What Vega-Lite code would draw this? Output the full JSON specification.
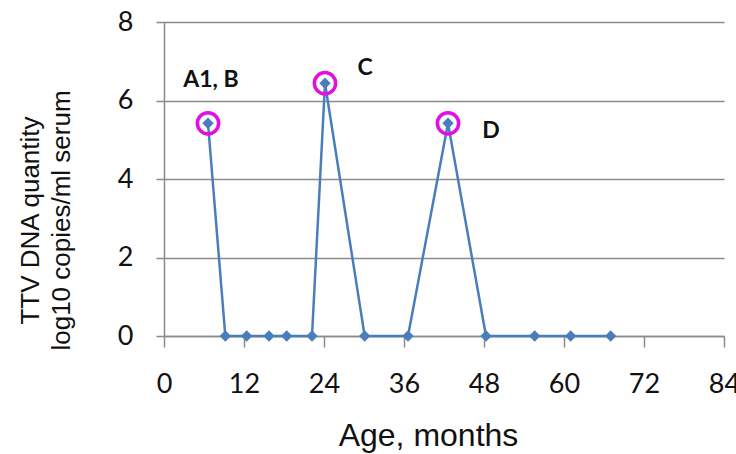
{
  "$schema": "https://vega.github.io/schema/vega-lite/v6.json",
  "autosize": {"type": "none"},
  "padding": {"left": 164, "top": 22, "right": 12, "bottom": 118},
  "width": 560,
  "height": 314,
  "background": "white",
  "config": {"view": {"stroke": null}},
  "data": {
    "values": [
      {"age": 6.6, "ttv": 5.42, "label": "A1, B"},
      {"age": 9.2, "ttv": 0},
      {"age": 12.4, "ttv": 0},
      {"age": 15.75, "ttv": 0},
      {"age": 18.4, "ttv": 0},
      {"age": 22.2, "ttv": 0},
      {"age": 24.15, "ttv": 6.44, "label": "C"},
      {"age": 30.1, "ttv": 0},
      {"age": 36.6, "ttv": 0},
      {"age": 42.6, "ttv": 5.42, "label": "D"},
      {"age": 48.3, "ttv": 0},
      {"age": 55.6, "ttv": 0},
      {"age": 61.0, "ttv": 0},
      {"age": 67.0, "ttv": 0}
    ]
  },
  "encoding": {
    "x": {
      "field": "age", "type": "quantitative",
      "scale": {"domain": [0, 84], "nice": false, "zero": false},
      "axis": {
        "values": [0, 12, 24, 36, 48, 60, 72, 84],
        "grid": false,
        "domainColor": "#8a8a8a", "domainWidth": 1.5,
        "tickColor": "#8a8a8a", "tickWidth": 1.5, "tickSize": 11,
        "labelFont": "Lato", "labelFontSize": 27, "labelColor": "#111",
        "labelPadding": 24, "labelFlush": false, "labelOverlap": false, "labelBound": false,
        "title": "Age, months",
        "titleFont": "Liberation Sans", "titleFontSize": 32, "titleFontWeight": "normal", "titleColor": "#111",
        "titleX": 264, "titleY": 109, "titleBaseline": "alphabetic", "titleAlign": "center"
      }
    },
    "y": {
      "field": "ttv", "type": "quantitative",
      "scale": {"domain": [0, 8], "nice": false},
      "axis": {
        "values": [0, 2, 4, 6, 8],
        "grid": true, "gridColor": "#8c8c8c", "gridWidth": 1.5,
        "domainColor": "#8a8a8a", "domainWidth": 1.5,
        "tickColor": "#8a8a8a", "tickWidth": 1.5, "tickSize": 8,
        "labelFont": "Lato", "labelFontSize": 27, "labelColor": "#111",
        "labelPadding": 23,
        "title": ["TTV DNA quantity", "log10 copies/ml serum"],
        "titleFont": "Liberation Sans", "titleFontSize": 26, "titleFontWeight": "normal", "titleColor": "#111",
        "titleLineHeight": 31,
        "titleAngle": -90, "titleAlign": "center", "titleBaseline": "top",
        "titleX": -147, "titleY": 198
      }
    }
  },
  "layer": [
    {
      "mark": {"type": "line", "color": "#4a7ebb", "strokeWidth": 2.5,
               "point": {"shape": "diamond", "size": 130, "filled": true, "color": "#4a7ebb"}}
    },
    {
      "transform": [{"filter": "isValid(datum.label)"}],
      "mark": {"type": "point", "shape": "circle", "size": 452, "filled": false,
               "stroke": "#e010e0", "strokeWidth": 3.5, "opacity": 1}
    },
    {
      "transform": [{"filter": "datum.label == 'A1, B'"}],
      "mark": {"type": "text", "dx": 3, "dy": -43, "font": "Lato", "fontWeight": "bold", "fontSize": 23, "color": "#111", "align": "center", "baseline": "middle"},
      "encoding": {"text": {"field": "label"}}
    },
    {
      "transform": [{"filter": "datum.label == 'C'"}],
      "mark": {"type": "text", "dx": 40, "dy": -15, "font": "Lato", "fontWeight": "bold", "fontSize": 23, "color": "#111", "align": "center", "baseline": "middle"},
      "encoding": {"text": {"field": "label"}}
    },
    {
      "transform": [{"filter": "datum.label == 'D'"}],
      "mark": {"type": "text", "dx": 43, "dy": 8, "font": "Lato", "fontWeight": "bold", "fontSize": 23, "color": "#111", "align": "center", "baseline": "middle"},
      "encoding": {"text": {"field": "label"}}
    }
  ]
}
